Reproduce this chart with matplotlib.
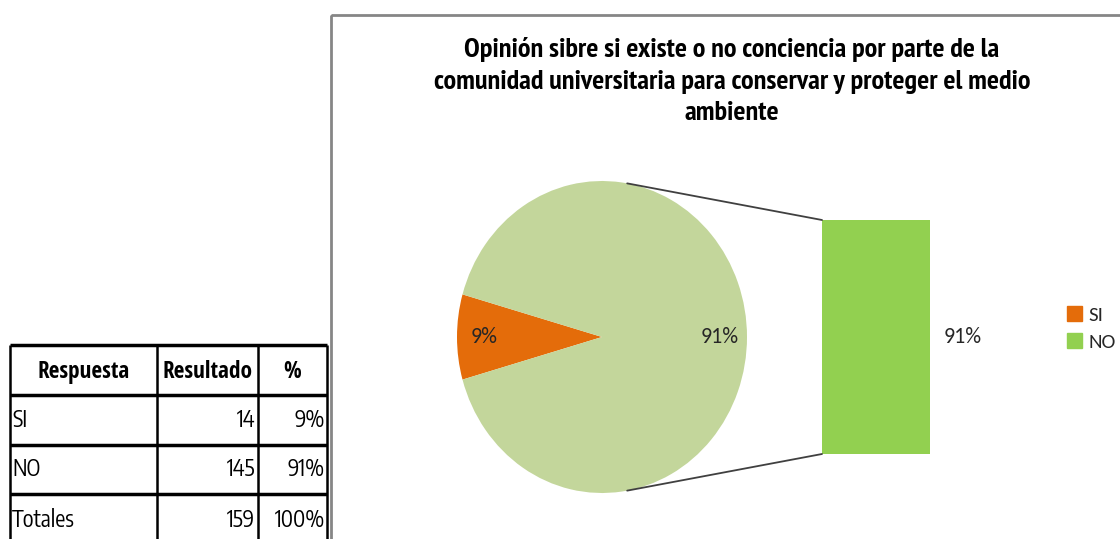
import matplotlib
matplotlib.use("Agg")
import matplotlib.pyplot as plt
from matplotlib.patches import ConnectionPatch, Rectangle
from matplotlib import font_manager
import numpy as np

# data
categories = ["SI", "NO"]
counts = [14, 145]
percents = [9, 91]
total_count = 159
total_percent = 100

title = ("Opinión sibre si existe o no conciencia por parte de la\n"
         "comunidad universitaria para conservar y proteger el medio\n"
         "ambiente")

pie_colors = ["#E46C0A", "#C3D69B"]
bar_color = "#92D050"

W, H = 1120, 539
fonts = font_manager.fontManager.ttflist


def pick(cands, weight=400):
    # first candidate that has a face of the wanted weight
    for c in cands:
        if any(f.name == c and abs(f.weight - weight) <= 100 for f in fonts):
            return [c, "DejaVu Sans"]
    return ["DejaVu Sans"]


narrow_list = ["Liberation Sans Narrow", "Arial Narrow", "Archivo Narrow", "PT Sans Narrow",
               "Roboto Condensed", "Open Sans Condensed", "Pragati Narrow",
               "Sofia Sans Condensed", "Barlow Condensed", "Saira SemiCondensed"]
title_font = pick(narrow_list, 700)
head_font = pick(["Open Sans Condensed"] + narrow_list, 700)
cell_font = pick(["Encode Sans Condensed", "Roboto Condensed", "PT Sans Narrow",
                  "Archivo Narrow", "Sofia Sans Condensed", "Barlow Condensed",
                  "Open Sans Condensed"], 400)
label_font = pick(["Carlito", "Open Sans"], 400)


def px_axes(fig, x0, y0, x1, y1):
    # axes from pixel box (top-left origin)
    return fig.add_axes([x0 / W, 1 - y1 / H, (x1 - x0) / W, (y1 - y0) / H])


def fit(t, width):
    # scale font so the text is as wide as in the reference
    r = fig.canvas.get_renderer()
    w = t.get_window_extent(r).width
    t.set_fontsize(t.get_fontsize() * width / w)
    return t.get_fontsize()


fig = plt.figure(figsize=(W / 100, H / 100), dpi=100)

bg = fig.add_axes([0, 0, 1, 1])
bg.set_xlim(0, W)
bg.set_ylim(H, 0)
bg.axis("off")

# chart frame
bg.add_patch(Rectangle((331, 15), W, H, fill=False, ec="#868686", lw=2))

# title
tt = bg.text(732, 81, title, ha="center", va="center", fontsize=14, fontweight="bold",
             family=title_font, linespacing=1.42, color="black")
fit(tt, 600)

# table
cols = [10, 157, 258, 327]
rows = [345, 395, 445, 494, 560]
for y in rows:
    bg.plot([cols[0], cols[-1]], [y, y], color="black", lw=2.5, solid_capstyle="butt")
for x in cols:
    bg.plot([x, x], [rows[0], rows[-1]], color="black", lw=1.8, solid_capstyle="butt")

headers = ["Respuesta", "Resultado", "%"]
head_texts = [bg.text((cols[i] + cols[i + 1]) / 2, 372, h, ha="center", va="center",
                      fontweight="bold", family=head_font, fontsize=17, color="black")
              for i, h in enumerate(headers)]
hsize = fit(head_texts[0], 92)
for t in head_texts:
    t.set_fontsize(hsize)

table_rows = list(zip(categories, counts, [f"{p}%" for p in percents]))
table_rows.append(("Totales", total_count, f"{total_percent}%"))
row_y = [420, 469, 520]
cell_texts = []
for r, (name, n, p) in enumerate(table_rows):
    yc = row_y[r]
    kw = dict(va="center", family=cell_font, fontsize=17, color="black")
    cell_texts.append(bg.text(cols[0] + 2, yc, name, ha="left", **kw))
    cell_texts.append(bg.text(cols[2] - 3, yc, str(n), ha="right", **kw))
    cell_texts.append(bg.text(cols[3] - 2, yc, p, ha="right", **kw))
csize = fit(cell_texts[-3], 63)
for t in cell_texts:
    t.set_fontsize(csize)

# pie
ax_pie = px_axes(fig, 457, 181, 747, 493)
start = 180 - 360 * counts[0] / sum(counts) / 2
wedges, _, autotexts = ax_pie.pie(counts, colors=pie_colors, startangle=start,
                                  autopct="%.0f%%", pctdistance=0.81,
                                  textprops=dict(fontsize=13, color="#262626",
                                                 family=label_font))
ax_pie.set_aspect("auto")
ax_pie.set_xlim(-1, 1)
ax_pie.set_ylim(-1, 1)
lsize = fit(autotexts[1], 38)
autotexts[0].set_fontsize(lsize)

# bar of the secondary plot
ax_bar = px_axes(fig, 822, 220, 930, 454)
ax_bar.bar([0], [percents[1]], width=1, color=bar_color)
ax_bar.set_xlim(-0.5, 0.5)
ax_bar.set_ylim(0, percents[1])
ax_bar.axis("off")
ax_bar.text(0.80, percents[1] / 2, f"{percents[1]}%", ha="center", va="center",
            fontsize=lsize, color="#262626", family=label_font, clip_on=False)

# connector lines
ang = np.deg2rad(80)
for sgn, ytop in [(1, percents[1]), (-1, 0)]:
    con = ConnectionPatch(xyA=(np.cos(ang), sgn * np.sin(ang)), coordsA=ax_pie.transData,
                          xyB=(-0.5, ytop), coordsB=ax_bar.transData,
                          color="#404040", lw=1.3)
    fig.add_artist(con)

# legend
handles = [Rectangle((0, 0), 1, 1, color=c) for c in [pie_colors[0], bar_color]]
fig.legend(handles, categories, loc="upper left", bbox_to_anchor=(1067 / W, 1 - 306 / H),
           frameon=False, borderpad=0, borderaxespad=0, handlelength=0.7,
           handleheight=0.7, handletextpad=0.35, labelspacing=0.45,
           prop=dict(family=label_font, size=lsize * 0.95), labelcolor="#262626")

fig.savefig("out.png", dpi=100)
